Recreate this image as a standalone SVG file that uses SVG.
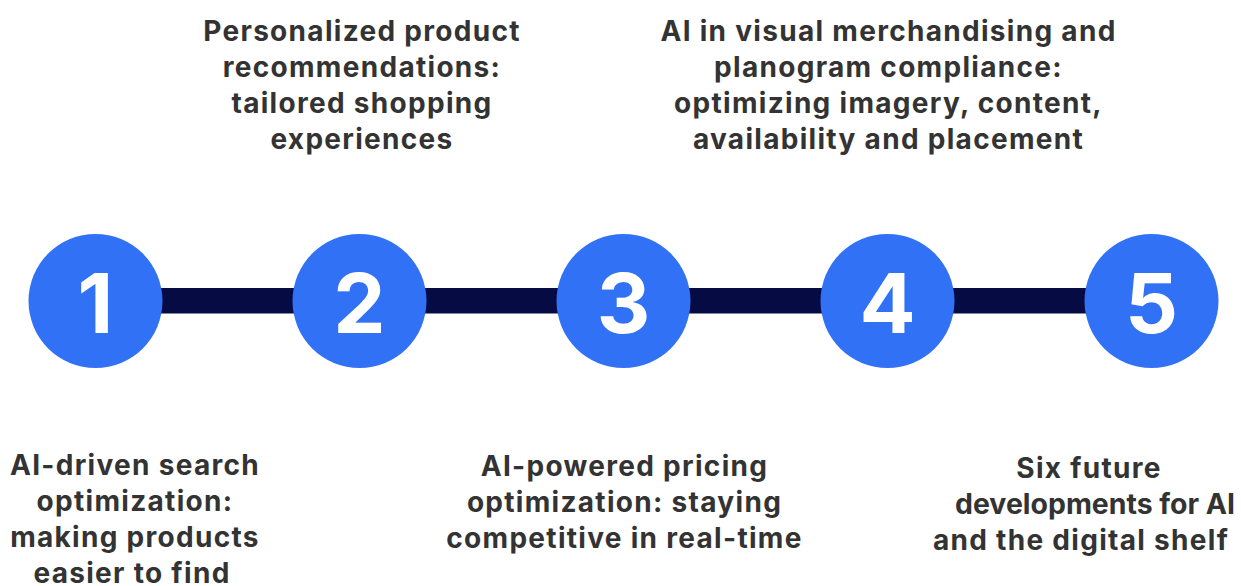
<svg xmlns="http://www.w3.org/2000/svg" width="1241" height="586" viewBox="0 0 1241 586">
  <style>
    .step { fill: #3171F5; }
    .num { font-family: Inter, "Liberation Sans", sans-serif; font-weight: 700; font-size: 83px; fill: #FFFFFF; text-anchor: middle; }
    .label { font-family: Inter, "Liberation Sans", sans-serif; font-weight: 700; font-size: 28px; letter-spacing: 1.3px; fill: #333333; text-anchor: middle; }
    .bar { fill: #060B44; }
  </style>
  <rect width="1241" height="586" fill="#FFFFFF"/>

  <!-- connecting bars between steps -->
  <g id="connectors">
    <rect class="bar" x="150" y="288" width="160" height="25.5"/>
    <rect class="bar" x="414" y="288" width="160" height="25.5"/>
    <rect class="bar" x="678" y="288" width="160" height="25.5"/>
    <rect class="bar" x="942" y="288" width="160" height="25.5"/>
  </g>

  <g id="step-1">
    <circle class="step" cx="95.5" cy="301" r="67"/>
    <text class="num" x="95.5" y="333">1</text>
    <text class="label" x="135" y="475">AI-driven search</text>
    <text class="label" x="135" y="511">optimization:</text>
    <text class="label" x="135" y="547">making products</text>
    <text class="label" x="132" y="583">easier to find</text>
  </g>

  <g id="step-2">
    <circle class="step" cx="359.5" cy="301" r="67"/>
    <text class="num" x="359.5" y="333">2</text>
    <text class="label" x="362" y="41">Personalized product</text>
    <text class="label" x="362" y="77">recommendations:</text>
    <text class="label" x="362" y="113">tailored shopping</text>
    <text class="label" x="362" y="149">experiences</text>
  </g>

  <g id="step-3">
    <circle class="step" cx="623.5" cy="301" r="67"/>
    <text class="num" x="623.5" y="333">3</text>
    <text class="label" x="624.5" y="476">AI-powered pricing</text>
    <text class="label" x="624.5" y="512">optimization: staying</text>
    <text class="label" x="624.5" y="548">competitive in real-time</text>
  </g>

  <g id="step-4">
    <circle class="step" cx="887.5" cy="301" r="67"/>
    <text class="num" x="887.5" y="333">4</text>
    <text class="label" x="888.5" y="41">AI in visual merchandising and</text>
    <text class="label" x="888.5" y="77">planogram compliance:</text>
    <text class="label" x="888.5" y="113">optimizing imagery, content,</text>
    <text class="label" x="888.5" y="149">availability and placement</text>
  </g>

  <g id="step-5">
    <circle class="step" cx="1151.5" cy="301" r="67"/>
    <text class="num" x="1151.5" y="333">5</text>
    <text class="label" x="1089" y="478">Six future</text>
    <text class="label" x="1095" y="514" style="letter-spacing:0" textLength="280" lengthAdjust="spacingAndGlyphs">developments for AI</text>
    <text class="label" x="1081" y="550">and the digital shelf</text>
  </g>
</svg>
